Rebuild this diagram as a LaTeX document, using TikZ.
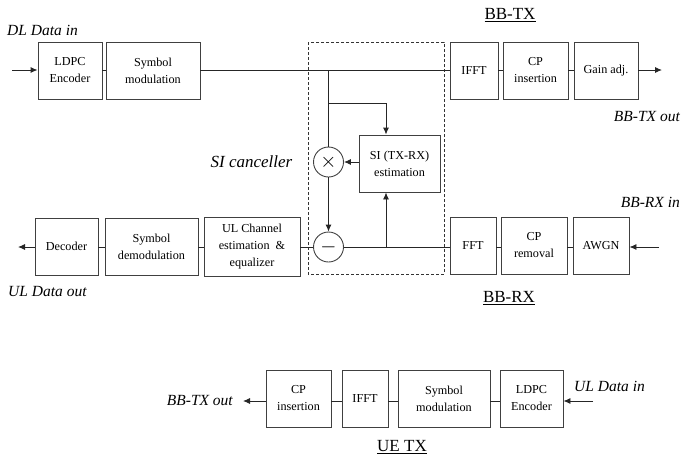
\documentclass[tikz,border=0pt]{standalone}
\usepackage{fontspec}
\setmainfont{Liberation Serif}
\usetikzlibrary{arrows.meta}
\begin{document}
\begin{tikzpicture}[x=1pt,y=-1pt,
  blk/.style={draw=black!75,line width=0.9pt,align=center,inner sep=0pt,
    minimum height=57pt,font=\fontsize{12.2}{17}\selectfont},
  circ/.style={draw=black!75,line width=0.9pt,circle,minimum size=30pt,inner sep=0pt},
  wire/.style={draw=black!85,line width=0.9pt},
  arr/.style={wire,-{Latex[length=7pt,width=6pt]}},
  lbl/.style={font=\fontsize{15.5}{18}\selectfont\itshape,inner sep=0pt},
  ttl/.style={font=\fontsize{17}{20}\selectfont,inner sep=0pt}]
\useasboundingbox (0,0) rectangle (681,459);
% BB-TX
\node[blk,minimum width=64pt] (ldpc1) at (70,70.5) {LDPC\\Encoder};
\node[blk,minimum width=94pt] (sym1) at (153,70.5) {Symbol\\modulation};
\node[blk,minimum width=48pt] (ifft1) at (474,70.5) {IFFT};
\node[blk,minimum width=65pt] (cp1) at (535.5,70.5) {CP\\insertion};
\node[blk,minimum width=64pt] (gain) at (606,70.5) {Gain adj.};
% SI canceller
\node[blk,minimum width=81pt] (si) at (399.5,163.5) {SI (TX-RX)\\estimation};
\node[circ] (mul) at (328.5,162) {\fontsize{20}{20}\selectfont$\times$};
\node[circ] (sub) at (328.5,247) {\fontsize{20}{20}\selectfont$-$};
\draw[black!80,line width=0.8pt,dash pattern=on 3pt off 2pt] (308,42) rectangle (444,274);
% BB-RX
\node[blk,minimum width=63pt] (dec) at (66.5,246.5) {Decoder};
\node[blk,minimum width=93pt] (symd) at (151.5,246.5) {Symbol\\demodulation};
\node[blk,minimum width=96pt,minimum height=59pt] (ulch) at (252,246.5) {UL Channel\\estimation\ \ \&\\equalizer};
\node[blk,minimum width=46pt] (fft) at (473,245.5) {FFT};
\node[blk,minimum width=66pt] (cpr) at (534,245.5) {CP\\removal};
\node[blk,minimum width=56pt] (awgn) at (601,245.5) {AWGN};
% UE TX
\node[blk,minimum width=65pt] (cp2) at (298.5,398.5) {CP\\insertion};
\node[blk,minimum width=46pt] (ifft2) at (365,398.5) {IFFT};
\node[blk,minimum width=92pt] (sym2) at (444,398.5) {Symbol\\modulation};
\node[blk,minimum width=63pt] (ldpc2) at (531.5,398.5) {LDPC\\Encoder};
% coordinates
\coordinate (din) at (12,70);
\coordinate (txo) at (662,70);
\coordinate (rxi) at (659,247);
\coordinate (dout) at (18,247);
\coordinate (ulin) at (593,401);
\coordinate (ueo) at (243,401);
\coordinate (tap) at (328.5,70);
\coordinate (tap2) at (328.5,103);
\coordinate (tap3) at (386,103);
\coordinate (tap4) at (386,247);
% connections
\draw[arr] (din) -- (din -| ldpc1.west);
\draw[wire] (ldpc1.east |- 0,70) -- (sym1.west |- 0,70);
\draw[wire] (sym1.east |- 0,70) -- (ifft1.west |- 0,70);
\draw[wire] (ifft1.east |- 0,70) -- (cp1.west |- 0,70);
\draw[wire] (cp1.east |- 0,70) -- (gain.west |- 0,70);
\draw[arr] (gain.east |- 0,70) -- (txo);
\draw[wire] (tap) -- (mul.north);
\draw[arr] (tap2) -- (tap3) -- (si.north -| tap3);
\draw[arr] (si.west |- mul.east) -- (mul.east);
\draw[arr] (mul.south) -- (sub.north);
\draw[arr] (tap4) -- (si.south -| tap4);
\draw[wire] (sub.east) -- (fft.west |- sub.east);
\draw[wire] (ulch.east |- sub.west) -- (sub.west);
\draw[wire] (symd.east |- 0,247) -- (ulch.west |- 0,247);
\draw[wire] (dec.east |- 0,247) -- (symd.west |- 0,247);
\draw[arr] (dec.west |- dout) -- (dout);
\draw[wire] (fft.east |- 0,247) -- (cpr.west |- 0,247);
\draw[wire] (cpr.east |- 0,247) -- (awgn.west |- 0,247);
\draw[arr] (rxi) -- (awgn.east |- rxi);
\draw[arr] (ulin) -- (ldpc2.east |- ulin);
\draw[wire] (ldpc2.west |- 0,401) -- (sym2.east |- 0,401);
\draw[wire] (sym2.west |- 0,401) -- (ifft2.east |- 0,401);
\draw[wire] (ifft2.west |- 0,401) -- (cp2.east |- 0,401);
\draw[arr] (cp2.west |- ueo) -- (ueo);
% labels
\node[lbl,anchor=west] (l1) at (7,30) {DL Data in};
\node[ttl] (t1) at (510,15) {\underline{BB-TX}};
\node[lbl,anchor=east] (l2) at (680,117) {BB-TX out};
\node[lbl,font=\fontsize{17}{20}\selectfont\itshape] (l3) at (251.5,162) {SI canceller};
\node[lbl,anchor=east] (l4) at (680,202) {BB-RX in};
\node[lbl,anchor=west] (l5) at (8,292) {UL Data out};
\node[ttl] (t2) at (509,298) {\underline{BB-RX}};
\node[lbl,anchor=east] (l6) at (233,401) {BB-TX out};
\node[lbl,anchor=west] (l7) at (574,386) {UL Data in};
\node[ttl] (t3) at (402,447) {\underline{UE TX}};
\end{tikzpicture}
\end{document}
